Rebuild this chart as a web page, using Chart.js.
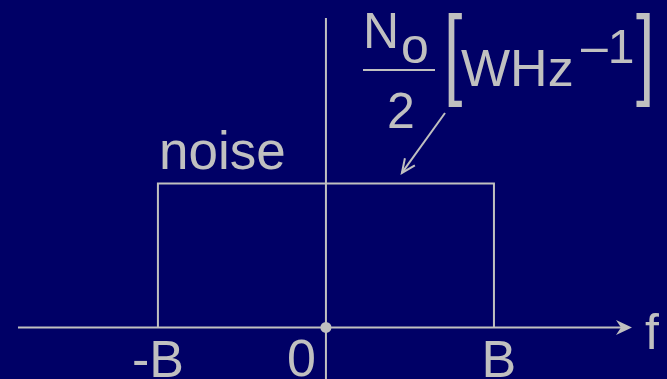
<!DOCTYPE html>
<html>
<head>
<meta charset="utf-8">
<style>
  html, body { margin: 0; padding: 0; background: #000066; }
  #wrap { width: 667px; height: 379px; }
</style>
<script src="https://cdn.jsdelivr.net/npm/chart.js@4/dist/chart.umd.min.js"></script>
</head>
<body>
<div id="wrap"><canvas id="psd" width="667" height="379"></canvas></div>
<script>
// Band-limited white noise: flat power spectral density between -B and B
const bandEdges = [-1, -1, 1, 1];      // frequency, in units of B
const bandLevel = [0, 1, 1, 0];        // PSD, in units of No/2
const tickValues = [-1, 0, 1];
const tickLabels = ['-B', '0', 'B'];
const axisLabel = 'f';
const bandLabel = 'noise';

const INK = '#c0c0c0';
const FONT = '"Liberation Sans", Arial, sans-serif';

const fAxis = [{ x: -1.833, y: 0 }, { x: 1.78, y: 0 }];
const pAxis = [{ x: 0, y: -0.36 }, { x: 0, y: 2.149 }];

const overlay = {
  id: 'overlay',
  afterDatasetsDraw(chart) {
    const { ctx, scales: { x, y } } = chart;
    const px = v => x.getPixelForValue(v);
    const py = v => y.getPixelForValue(v);
    ctx.save();
    ctx.fillStyle = INK;
    ctx.strokeStyle = INK;

    // arrowhead at the end of the frequency axis
    const tipX = px(fAxis[1].x) + 7, ay = py(0);
    ctx.beginPath();
    ctx.moveTo(tipX, ay);
    ctx.lineTo(tipX - 16, ay - 7.5);
    ctx.lineTo(tipX - 11, ay);
    ctx.lineTo(tipX - 16, ay + 7.5);
    ctx.closePath();
    ctx.fill();

    // tick labels under the axis
    ctx.font = '52px ' + FONT;
    ctx.textBaseline = 'alphabetic';
    tickValues.forEach((v, i) => {
      const t = tickLabels[i];
      if (v === 0) {
        ctx.textAlign = 'right';
        ctx.fillText(t, px(v) - 10, 376);
      } else {
        ctx.textAlign = 'center';
        ctx.fillText(t, px(v) + (v > 0 ? 5 : 0), 377);
      }
    });

    // axis name
    ctx.font = '50px ' + FONT;
    ctx.textAlign = 'left';
    ctx.fillText(axisLabel, 645, 349);

    // band label above the left edge
    ctx.font = '53px ' + FONT;
    ctx.fillText(bandLabel, px(-1) + 1, 169);

    // level annotation: No/2 [W Hz^-1]
    ctx.font = '50px ' + FONT;
    ctx.fillText('N', 363, 48);
    ctx.fillText('o', 401, 63);
    ctx.fillRect(363, 69, 72, 2);
    ctx.textAlign = 'center';
    ctx.fillText('2', 401, 128);
    ctx.textAlign = 'left';
    ctx.font = '52px ' + FONT;
    ctx.fillText('WHz', 461, 86);
    ctx.font = '48px ' + FONT;
    ctx.fillText('\u20131', 581, 63);

    // tall brackets around the unit
    ctx.save();
    ctx.font = '100px ' + FONT;
    ctx.scale(0.66, 1);
    ctx.fillText('[', 444 / 0.66, 86);
    ctx.fillText(']', 636 / 0.66, 86);
    ctx.restore();

    // pointer from the annotation to the band top
    const sx = 445, sy = 113;
    const ex = px(0.452), ey = py(1.073);
    ctx.lineWidth = 2;
    ctx.beginPath();
    ctx.moveTo(sx, sy);
    ctx.lineTo(ex, ey);
    ctx.stroke();
    const ang = Math.atan2(ey - sy, ex - sx);
    const hl = 15, hw = 0.42;
    ctx.beginPath();
    ctx.moveTo(ex - hl * Math.cos(ang - hw), ey - hl * Math.sin(ang - hw));
    ctx.lineTo(ex, ey);
    ctx.lineTo(ex - hl * Math.cos(ang + hw), ey - hl * Math.sin(ang + hw));
    ctx.stroke();

    ctx.restore();
  }
};

new Chart(document.getElementById('psd'), {
  type: 'scatter',
  data: {
    datasets: [
      {
        label: bandLabel,
        data: bandEdges.map((f, i) => ({ x: f, y: bandLevel[i] })),
        showLine: true,
        borderColor: INK,
        borderWidth: 2,
        pointRadius: 0,
        tension: 0
      },
      {
        label: axisLabel,
        data: fAxis,
        showLine: true,
        borderColor: INK,
        borderWidth: 2,
        pointRadius: 0
      },
      {
        label: 'S(f)',
        data: pAxis,
        showLine: true,
        borderColor: INK,
        borderWidth: 2,
        pointRadius: 0
      },
      {
        label: 'origin',
        data: [{ x: 0, y: 0 }],
        pointRadius: 5.5,
        backgroundColor: INK,
        borderWidth: 0
      }
    ]
  },
  options: {
    responsive: false,
    animation: false,
    events: [],
    layout: { padding: 0, autoPadding: false },
    plugins: { legend: { display: false }, tooltip: { enabled: false } },
    scales: {
      x: { type: 'linear', min: -1.940, max: 2.030, display: false },
      y: { type: 'linear', min: -0.358, max: 2.274, display: false }
    }
  },
  plugins: [overlay]
});
</script>
</body>
</html>
